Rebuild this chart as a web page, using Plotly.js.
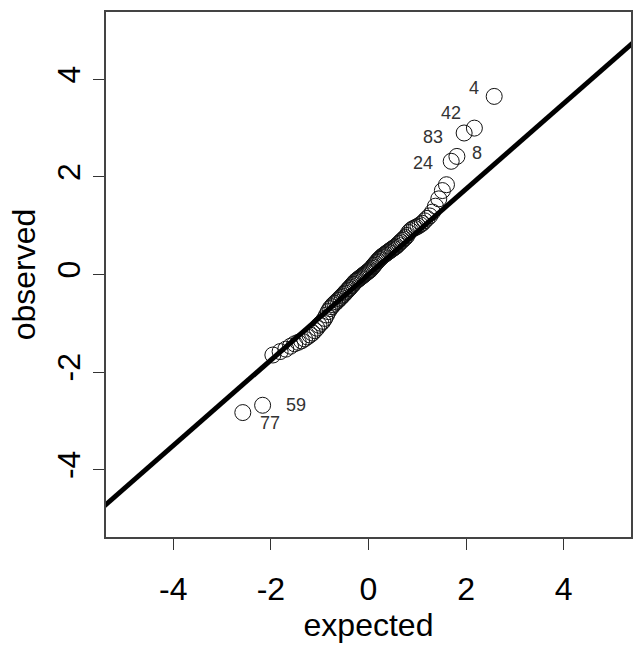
<!DOCTYPE html>
<html>
<head>
<meta charset="utf-8">
<script src="https://cdn.plot.ly/plotly-3.0.1.min.js"></script>
<style>html,body{margin:0;padding:0;background:#fff;}#chart{width:633px;height:645px;}</style>
</head>
<body>
<div id="chart"></div>
<script>
// theoretical normal quantiles (expected), sorted
var expected = [-2.576,-2.170,-1.960,-1.812,-1.695,-1.598,-1.514,-1.440,-1.372,-1.311,
-1.254,-1.200,-1.150,-1.103,-1.058,-1.015,-0.974,-0.935,-0.896,-0.860,
-0.824,-0.789,-0.755,-0.722,-0.690,-0.659,-0.628,-0.598,-0.568,-0.539,
-0.510,-0.482,-0.454,-0.426,-0.399,-0.372,-0.345,-0.319,-0.292,-0.266,
-0.240,-0.215,-0.189,-0.164,-0.138,-0.113,-0.088,-0.063,-0.038,-0.013,
0.013,0.038,0.063,0.088,0.113,0.138,0.164,0.189,0.215,0.240,
0.266,0.292,0.319,0.345,0.372,0.399,0.426,0.454,0.482,0.510,
0.539,0.568,0.598,0.628,0.659,0.690,0.722,0.755,0.789,0.824,
0.860,0.896,0.935,0.974,1.015,1.058,1.103,1.150,1.200,1.254,
1.311,1.372,1.440,1.514,1.598,1.695,1.812,1.960,2.170,2.576];
var observed = [-2.83,-2.68,-1.65,-1.58,-1.53,-1.47,-1.42,-1.39,-1.36,-1.32,
-1.28,-1.24,-1.20,-1.15,-1.10,-1.04,-1.00,-0.96,-0.90,-0.83,
-0.76,-0.70,-0.66,-0.62,-0.59,-0.56,-0.53,-0.50,-0.47,-0.44,
-0.41,-0.38,-0.35,-0.32,-0.29,-0.26,-0.23,-0.20,-0.17,-0.14,
-0.12,-0.10,-0.08,-0.06,-0.04,-0.02,0.00,0.02,0.04,0.06,
0.08,0.10,0.13,0.16,0.19,0.22,0.25,0.28,0.31,0.33,
0.36,0.38,0.40,0.42,0.44,0.46,0.48,0.50,0.52,0.54,
0.56,0.58,0.61,0.64,0.67,0.70,0.73,0.76,0.80,0.86,
0.90,0.93,0.95,0.97,0.99,1.02,1.05,1.10,1.15,1.20,
1.28,1.40,1.55,1.72,1.84,2.32,2.42,2.90,3.00,3.65];
// labelled points: index into the sorted arrays and their case labels
var labelIndex = [99, 98, 97, 96, 95, 1, 0];
var labelText  = ["4", "42", "83", "8", "24", "59", "77"];
var labelDx    = [-20, -23, -31, 20, -28, 33, 27];
var labelDy    = [8, 15, -4, 3, -2, 0, -10];
// reference line
var lineIntercept = 0.0;
var lineSlope = 0.876;
var axisRange = [-5.38, 5.38];
var tickVals = [-4, -2, 0, 2, 4];

var lineX = [axisRange[0] - 1, axisRange[1] + 1];
var lineY = lineX.map(function (v) { return lineIntercept + lineSlope * v; });

var traces = [
  {x: expected, y: observed, type: 'scatter', mode: 'markers',
   marker: {symbol: 'circle-open', size: 16, color: '#111', line: {width: 1, color: '#111'}},
   hoverinfo: 'x+y', showlegend: false},
  {x: lineX, y: lineY, type: 'scatter', mode: 'lines',
   line: {color: '#000', width: 5}, hoverinfo: 'skip', showlegend: false}
];

var annotations = labelIndex.map(function (idx, k) {
  return {x: expected[idx], y: observed[idx], xref: 'x', yref: 'y', text: labelText[k],
    showarrow: false, xshift: labelDx[k], yshift: labelDy[k],
    font: {family: 'Liberation Sans, Arial, sans-serif', size: 18, color: '#333'}};
});

var axisCommon = {
  range: axisRange, tickvals: tickVals, ticktext: tickVals.map(String),
  showgrid: false, zeroline: false, showline: true, mirror: true,
  linecolor: '#444', linewidth: 2,
  ticks: 'outside', ticklen: 11, tickwidth: 1, tickcolor: '#333',
  tickfont: {family: 'Liberation Sans, Arial, sans-serif', size: 32, color: '#000'}
};

var layout = {
  width: 633, height: 645,
  margin: {l: 106, r: 2, t: 12, b: 108},
  paper_bgcolor: '#fff', plot_bgcolor: '#fff',
  showlegend: false,
  xaxis: Object.assign({}, axisCommon, {
    ticklabelstandoff: 12,
    title: {text: 'expected', standoff: 4,
      font: {family: 'Liberation Sans, Arial, sans-serif', size: 32, color: '#000'}}
  }),
  yaxis: Object.assign({}, axisCommon, {
    tickangle: -90,
    title: {text: 'observed', standoff: 6,
      font: {family: 'Liberation Sans, Arial, sans-serif', size: 32, color: '#000'}}
  }),
  annotations: annotations
};

Plotly.newPlot('chart', traces, layout, {displayModeBar: false, staticPlot: true});
</script>
</body>
</html>
